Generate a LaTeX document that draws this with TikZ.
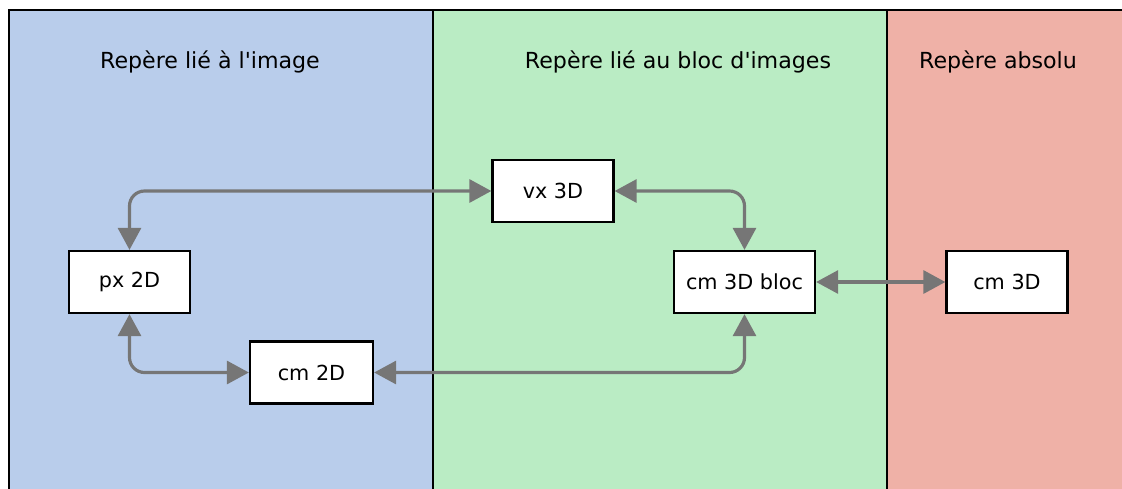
\documentclass[tikz,border=0pt]{standalone}
\usepackage{fontspec}
\setmainfont{DejaVu Sans}[Ligatures=TeXOff]
\usetikzlibrary{arrows.meta}
\definecolor{pblue}{RGB}{185,205,235}
\definecolor{pgreen}{RGB}{186,236,196}
\definecolor{pred}{RGB}{239,177,167}
\definecolor{agray}{RGB}{118,118,118}
\begin{document}
\begin{tikzpicture}[x=0.02cm,y=-0.02cm,
  box/.style={draw=black,fill=white,line width=1.3pt,minimum width=121*0.02cm,minimum height=62*0.02cm,inner sep=0pt,font=\fontsize{11.8}{14}\selectfont},
  ttl/.style={font=\fontsize{12.6}{15}\selectfont,inner sep=0pt},
  conn/.style={draw=agray,line width=1.8pt,rounded corners=0.3cm,{Triangle[length=0.44cm,width=0.46cm]}-{Triangle[length=0.44cm,width=0.46cm]}}]
\useasboundingbox (0,0) rectangle (1122,488);
\fill[pblue] (9,10) rectangle (433,520);
\fill[pgreen] (433,10) rectangle (887,520);
\fill[pred] (887,10) rectangle (1140,520);
\draw[line width=1.3pt] (9,520) -- (9,10) -- (1140,10);
\draw[line width=1.3pt] (433,10) -- (433,520);
\draw[line width=1.3pt] (887,10) -- (887,520);
\node[ttl] (t1) at (210,62) {Repère lié à l'image};
\node[ttl] (t2) at (678,62) {Repère lié au bloc d'images};
\node[ttl] (t3) at (998,62) {Repère absolu};
\node[box] (px) at (129.5,282) {px 2D};
\node[box,minimum width=123*0.02cm] (cm2) at (311.5,372.5) {cm 2D};
\node[box] (vx) at (553,191) {vx 3D};
\node[box,minimum width=141*0.02cm] (bloc) at (744.5,282) {cm 3D bloc};
\node[box] (cm3) at (1007,282) {cm 3D};
\draw[conn] (px.north) |- (vx.west);
\draw[conn] (px.south) |- (cm2.west);
\draw[conn] (cm2.east) -| (bloc.south);
\draw[conn] (vx.east) -| (bloc.north);
\draw[conn] (bloc.east) -- (cm3.west);
\end{tikzpicture}
\end{document}
